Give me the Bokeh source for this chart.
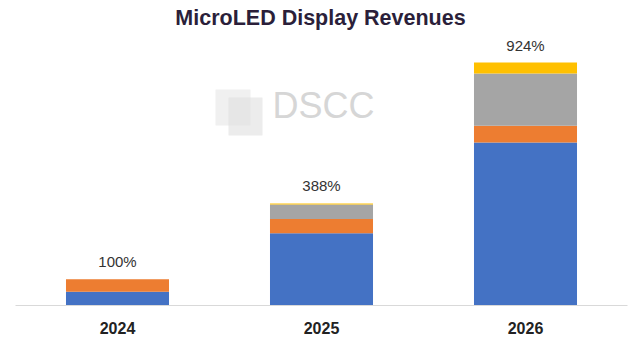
from bokeh.plotting import figure
from bokeh.models import ColumnDataSource, Range1d, FactorRange, Label, BoxAnnotation
from bokeh.core.properties import value
from bokeh.embed import file_html
from bokeh.resources import INLINE

years = ["2024", "2025", "2026"]
seg_blue = [52, 275, 620]
seg_orange = [48, 54, 64]
seg_gray = [0, 55, 198]
seg_yellow = [0, 4, 42]
pct_labels = ["100%", "388%", "924%"]

series = ["blue", "orange", "gray", "yellow"]
colors = ["#4472C4", "#ED7D31", "#A5A5A5", "#FFC000"]

totals = [b + o + g + y for b, o, g, y in zip(seg_blue, seg_orange, seg_gray, seg_yellow)]
source = ColumnDataSource(dict(years=years, blue=seg_blue, orange=seg_orange,
                               gray=seg_gray, yellow=seg_yellow,
                               total=totals, label=pct_labels))

p = figure(width=640, height=339, x_range=FactorRange(*years), y_range=Range1d(0, 1160),
           output_backend="svg", toolbar_location=None,
           min_border_left=15, min_border_right=13, min_border_top=0, min_border_bottom=34)
p.outline_line_color = None
p.background_fill_color = "white"
p.border_fill_color = "white"
p.xgrid.visible = False
p.ygrid.visible = False
p.yaxis.visible = False

p.vbar_stack(series, x="years", width=0.505, color=colors, line_color=None, source=source)

p.text(x="years", y="total", text="label", source=source, text_align="center",
       text_baseline="bottom", y_offset=-9, text_font=value("Liberation Sans"),
       text_font_size="15px", text_color="#333333")

xa = p.xaxis[0]
xa.axis_line_color = "#d9d9d9"
xa.axis_line_width = 1
xa.major_tick_line_color = None
xa.minor_tick_line_color = None
xa.major_label_standoff = 10
xa.major_label_text_font = "Liberation Sans"
xa.major_label_text_font_style = "bold"
xa.major_label_text_font_size = "16px"
xa.major_label_text_color = "#222222"

# title
p.add_layout(Label(x=305, y=288, x_units="screen", y_units="screen", text="MicroLED Display Revenues",
                   text_align="center", text_baseline="middle", text_font="Liberation Sans",
                   text_font_style="bold", text_font_size="21.5px", text_color="#2b1f3a"))

# watermark
p.add_layout(BoxAnnotation(left=200, right=235, bottom=180, top=216, left_units="screen",
                           right_units="screen", bottom_units="screen", top_units="screen",
                           fill_color="#e6e6e6", fill_alpha=0.6, line_color=None))
p.add_layout(BoxAnnotation(left=213, right=247, bottom=170, top=208, left_units="screen",
                           right_units="screen", bottom_units="screen", top_units="screen",
                           fill_color="#e0e0e0", fill_alpha=0.6, line_color=None))
p.add_layout(Label(x=257, y=200, x_units="screen", y_units="screen", text="DSCC",
                   text_align="left", text_baseline="middle", text_font="Liberation Sans",
                   text_font_size="36px", text_color="#d6d6d6"))

open("out.html", "w").write(file_html(p, INLINE))
